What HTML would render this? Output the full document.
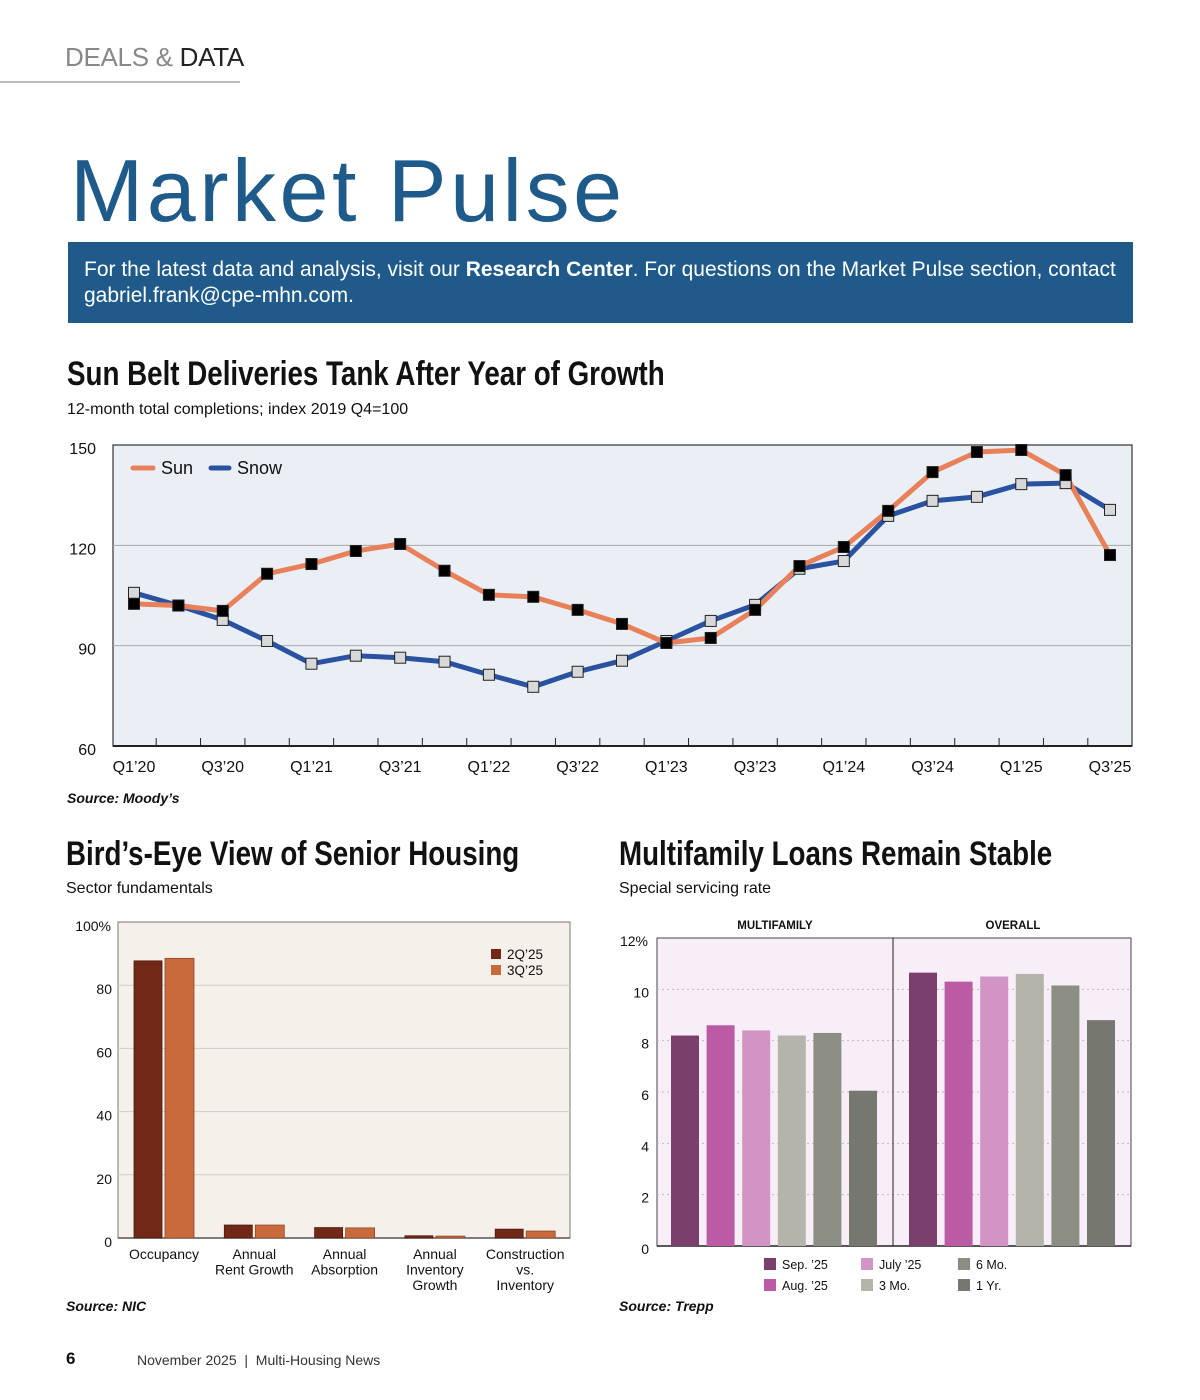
<!DOCTYPE html>
<html><head><meta charset="utf-8">
<style>
body{margin:0;width:1200px;height:1400px;background:#fff;font-family:"Liberation Sans",sans-serif;position:relative;overflow:hidden;color:#111}
.abs{position:absolute}
.h2{font-family:"Liberation Sans Narrow","Liberation Sans",sans-serif;font-weight:bold;font-size:34px;color:#111;transform-origin:left top;transform:scaleX(0.816);white-space:nowrap}
.sub{font-size:16px;color:#111}
.src{font-size:14px;font-weight:bold;font-style:italic}
svg text{font-family:"Liberation Sans",sans-serif}
</style></head><body>
<div class="abs" style="left:65px;top:42px;font-size:26px;color:#888;letter-spacing:-0.3px"><span style="color:#888">DEALS &amp; </span><span style="color:#222">DATA</span></div>
<div class="abs" style="left:0;top:81px;width:240px;height:2px;background:#bbb"></div>
<div class="abs" style="left:70px;top:140px;font-size:88px;color:#1e5a8a;letter-spacing:3.5px">Market Pulse</div>
<div class="abs" style="left:68px;top:242px;width:1065px;height:81px;background:#1f5a8a;color:#fff;font-size:21px;line-height:26px;box-sizing:border-box;padding:15px 16px;white-space:nowrap">For the latest data and analysis, visit our <b>Research Center</b>. For questions on the Market Pulse section, contact<br>gabriel.frank@cpe-mhn.com.</div>

<div class="abs h2" style="left:67px;top:355px">Sun Belt Deliveries Tank After Year of Growth</div>
<div class="abs sub" style="left:67px;top:401px">12-month total completions; index 2019 Q4=100</div>
<svg class="abs" style="left:0;top:430px" width="1200" height="360" id="line"></svg>
<div class="abs src" style="left:67px;top:790px">Source: Moody’s</div>

<div class="abs h2" style="left:66px;top:835px">Bird’s-Eye View of Senior Housing</div>
<div class="abs sub" style="left:66px;top:880px">Sector fundamentals</div>
<svg class="abs" style="left:0;top:900px" width="600" height="400" id="senior"></svg>
<div class="abs src" style="left:66px;top:1298px">Source: NIC</div>

<div class="abs h2" style="left:619px;top:835px">Multifamily Loans Remain Stable</div>
<div class="abs sub" style="left:619px;top:880px">Special servicing rate</div>
<svg class="abs" style="left:600px;top:900px" width="600" height="400" id="loans"></svg>
<div class="abs src" style="left:619px;top:1298px">Source: Trepp</div>

<div class="abs" style="left:66px;top:1349px;font-size:17px;font-weight:bold">6</div>
<div class="abs" style="left:137px;top:1352px;font-size:14px;color:#333">November 2025 &nbsp;|&nbsp; Multi-Housing News</div>

<script>
const NS='http://www.w3.org/2000/svg';
function mk(p,t,a,txt){const e=document.createElementNS(NS,t);for(const k in a)e.setAttribute(k,a[k]);if(txt!==undefined)e.textContent=txt;p.appendChild(e);return e;}

// ---- Line chart data ----
const quarters=['Q1’20','Q2’20','Q3’20','Q4’20','Q1’21','Q2’21','Q3’21','Q4’21','Q1’22','Q2’22','Q3’22','Q4’22','Q1’23','Q2’23','Q3’23','Q4’23','Q1’24','Q2’24','Q3’24','Q4’24','Q1’25','Q2’25','Q3’25'];
const sunValues=[102.5,102,100.4,111.5,114.4,118.3,120.4,112.4,105.2,104.6,100.7,96.5,90.8,92.3,100.7,113.8,119.5,130.3,141.9,147.9,148.5,141,117.1];
const snowValues=[105.8,102,97.7,91.4,84.6,87,86.4,85.2,81.3,77.7,82.2,85.5,91.4,97.4,102.2,113,115.3,128.8,133.3,134.5,138.3,138.6,130.6];
const lineTicks=[60,90,120,150];

// ---- Senior housing data ----
const seniorCats=[['Occupancy'],['Annual','Rent Growth'],['Annual','Absorption'],['Annual','Inventory','Growth'],['Construction','vs.','Inventory']];
const senior2Q=[87.7,4.1,3.3,0.7,2.8];
const senior3Q=[88.5,4.1,3.2,0.6,2.2];
const seniorTicks=[0,20,40,60,80,100];

// ---- Loans data ----
const loanGroups=['MULTIFAMILY','OVERALL'];
const loanSeries=['Sep. ’25','Aug. ’25','July ’25','3 Mo.','6 Mo.','1 Yr.'];
const multifamilyRates=[8.2,8.6,8.4,8.2,8.3,6.05];
const overallRates=[10.65,10.3,10.5,10.6,10.15,8.8];
const loanTicks=[0,2,4,6,8,10,12];

// line chart
(function(){
const s=document.getElementById('line');
const X0=113,X1=1132,Y0=15,Y1=316;
const x=i=>134+i*(1110-134)/(quarters.length-1);
const y=v=>Y1-(v-60)/90*(Y1-Y0);
const bg=mk(s,'rect',{x:X0,y:Y0,width:X1-X0,height:Y1-Y0,fill:'#e9eff5',stroke:'#333','stroke-width':1.2});

lineTicks.forEach(t=>{
 if(t>60&&t<150){const g=mk(s,'line',{x1:X0,x2:X1,y1:y(t),y2:y(t),stroke:'#aaa','stroke-width':1});}
 const l=mk(s,'text',{x:96,y:y(t)+9,'text-anchor':'end','font-size':16,fill:'#111'},t);
 
});
mk(s,'line',{x1:X0,x2:X1,y1:Y1,y2:Y1,stroke:'#222','stroke-width':2});
for(let i=0;i<quarters.length-1;i++){const xt=(x(i)+x(i+1))/2;mk(s,'line',{x1:xt,x2:xt,y1:Y1,y2:Y1-8,stroke:'#222','stroke-width':1});}
quarters.forEach((q,i)=>{if(i%2===0){const t=mk(s,'text',{x:x(i),y:Y1+26,'text-anchor':'middle','font-size':16,fill:'#111'},q);}});
function series(vals,col,mfill,name){
 const p=mk(s,'polyline',{points:vals.map((v,i)=>x(i)+','+y(v)).join(' '),fill:'none',stroke:col,'stroke-width':5,'stroke-linejoin':'round'});
 
 return ()=>vals.forEach((v,i)=>{const m=mk(s,'rect',{x:x(i)-5.5,y:y(v)-5.5,width:11,height:11,fill:mfill,stroke:'#222','stroke-width':1});});
}
const a=series(snowValues,'#2a52a0','#d8d8d8','snow');
const b=series(sunValues,'#e8805a','#000','sun');
a();b();
const l1=mk(s,'line',{x1:133,x2:153,y1:38,y2:38,stroke:'#e8805a','stroke-width':5,'stroke-linecap':'round'});
const t1=mk(s,'text',{x:161,y:44,'font-size':18,fill:'#111'},'Sun');
const l2=mk(s,'line',{x1:211,x2:229,y1:38,y2:38,stroke:'#2a52a0','stroke-width':5,'stroke-linecap':'round'});
const t2=mk(s,'text',{x:237,y:44,'font-size':18,fill:'#111'},'Snow');
})();

// senior chart
(function(){
const s=document.getElementById('senior');
const X0=118,X1=570,Y0=22,Y1=338;
const y=v=>Y1-v/100*(Y1-Y0);
const bg=mk(s,'rect',{x:X0,y:Y0,width:X1-X0,height:Y1-Y0,fill:'#f6f0ea',stroke:'#777','stroke-width':1});

seniorTicks.forEach(t=>{
 if(t>0&&t<100){const g=mk(s,'line',{x1:X0,x2:X1,y1:y(t),y2:y(t),stroke:'#ccc','stroke-width':1});}
 const l=mk(s,'text',{x:t===100?111:112,y:y(t)+9,'text-anchor':'end','font-size':14,fill:'#111'},t===100?'100%':t);
 
});
mk(s,'line',{x1:X0,x2:X1,y1:Y1,y2:Y1,stroke:'#555','stroke-width':1.5});
const cx=i=>164+i*90.3;
seniorCats.forEach((c,i)=>{
 const r1=mk(s,'rect',{x:cx(i)-30,y:y(senior2Q[i]),width:28,height:Y1-y(senior2Q[i]),fill:'#722816',stroke:'#4a1a0e','stroke-width':0.8});
 
 const r2=mk(s,'rect',{x:cx(i)+1,y:y(senior3Q[i]),width:29,height:Y1-y(senior3Q[i]),fill:'#c96a3c',stroke:'#8c4a2a','stroke-width':0.8});
 
 c.forEach((ln,j)=>{const t=mk(s,'text',{x:cx(i),y:Y1+21+j*15.5,'text-anchor':'middle','font-size':14,fill:'#111'},ln);});
});
const lg=[['2Q’25','#722816'],['3Q’25','#c96a3c']];
lg.forEach((l,i)=>{const r=mk(s,'rect',{x:491,y:49+i*16,width:10,height:10,fill:l[1]});
const t=mk(s,'text',{x:507,y:59+i*16,'font-size':13.5,fill:'#111'},l[0]);});
})();

// loans chart
(function(){
const s=document.getElementById('loans');
const X0=57,XM=293,X1=531,Y0=38,Y1=346;
const y=v=>Y1-v/12*(Y1-Y0);
const cols=['#7b3f6e','#bb5ba3','#d194c4','#b4b4aa','#8d8e83','#76776f'];
const bg=mk(s,'rect',{x:X0,y:Y0,width:X1-X0,height:Y1-Y0,fill:'#f8eef8',stroke:'#444','stroke-width':1});

loanTicks.forEach(t=>{
 if(t>0&&t<12){const g=mk(s,'line',{x1:X0,x2:X1,y1:y(t),y2:y(t),stroke:'#bbb','stroke-width':1,'stroke-dasharray':'2,3'});}
 const l=mk(s,'text',{x:t===12?48:49,y:y(t)+8,'text-anchor':'end','font-size':14,fill:'#111'},t===12?'12%':t);
 
});
const dv=mk(s,'line',{x1:XM,x2:XM,y1:Y0,y2:Y1,stroke:'#222','stroke-width':1});
mk(s,'line',{x1:X0,x2:X1,y1:Y1,y2:Y1,stroke:'#222','stroke-width':1.5});
[multifamilyRates,overallRates].forEach((arr,g)=>{
 const base=g===0?71:309;
 const gt=mk(s,'text',{x:g===0?175:413,y:29,'text-anchor':'middle','font-size':11.5,'font-weight':'bold',fill:'#111'},loanGroups[g]);
 
 arr.forEach((v,i)=>{const r=mk(s,'rect',{x:base+i*35.6,y:y(v),width:28,height:Y1-y(v),fill:cols[i]});});
});
loanSeries.forEach((n,i)=>{
 const col=Math.floor(i/2),row=i%2;
 const xx=164+col*97, yy=358+row*21;
 const r=mk(s,'rect',{x:xx,y:yy,width:12,height:12,fill:cols[i]});
 
 const t=mk(s,'text',{x:xx+18,y:yy+11,'font-size':12.5,fill:'#111'},n);
});
})();
</script>
</body></html>
